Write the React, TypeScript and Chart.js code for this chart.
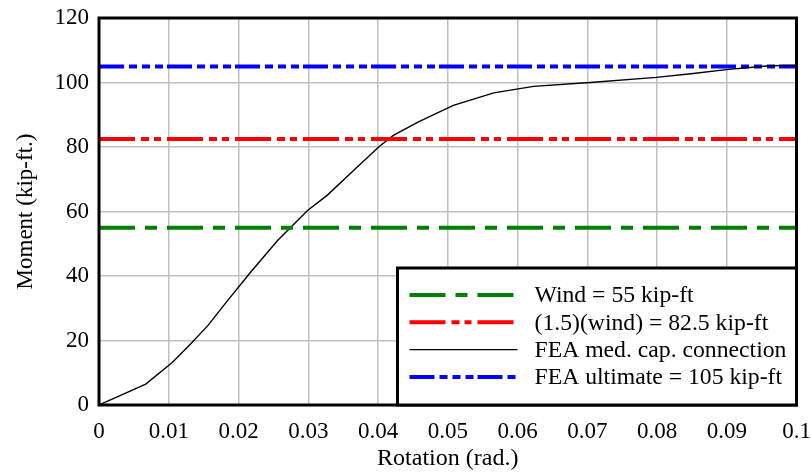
import React, { useEffect, useRef } from 'react';
import { Chart, registerables } from 'chart.js';

Chart.register(...registerables);

// ---- Data ----
const rotation = [0, 0.0067, 0.0105, 0.0132, 0.0156, 0.0184, 0.0217, 0.0256, 0.0299, 0.0327, 0.0368, 0.0401, 0.0422, 0.0458, 0.0508, 0.0566, 0.0623, 0.0704, 0.0799, 0.0852, 0.0899, 0.0961, 0.0998];
const moment = [0, 6.5, 13.2, 19.1, 24.6, 32.3, 41.1, 51, 60.3, 65, 73.3, 80, 83.6, 87.8, 92.9, 96.8, 98.8, 100, 101.6, 102.8, 104, 105.2, 105.3];

const xRange = [0, 0.1];
const windMoment = 55;
const factoredMoment = 82.5;
const ultimateMoment = 105;

const seriesLabels = ['Wind = 55 kip-ft', '(1.5)(wind) = 82.5 kip-ft', 'FEA med. cap. connection', 'FEA ultimate = 105 kip-ft'];
const xTickLabels = ['0', '0.01', '0.02', '0.03', '0.04', '0.05', '0.06', '0.07', '0.08', '0.09', '0.1'];
const yTickLabels = ['0', '20', '40', '60', '80', '100', '120'];

const FONT = "'Liberation Serif', 'Times New Roman', serif";

const framePlugin = {
  id: 'frame',
  afterDatasetsDraw(chart: any) {
    const { ctx, chartArea: a } = chart;
    ctx.save();
    ctx.strokeStyle = '#000';
    ctx.lineWidth = 3;
    ctx.strokeRect(a.left, a.top, a.right - a.left, a.bottom - a.top);
    ctx.restore();
  },
};

const legendPlugin = {
  id: 'boxLegend',
  afterDraw(chart: any) {
    const { ctx, chartArea: a } = chart;
    const w = 399;
    const h = 137;
    const left = a.right - w;
    const top = a.bottom - h;
    ctx.save();
    ctx.fillStyle = '#fff';
    ctx.fillRect(left, top, w, h);
    ctx.strokeStyle = '#000';
    ctx.lineWidth = 3;
    ctx.strokeRect(left, top, w, h);
    chart.data.datasets.forEach((ds: any, i: number) => {
      const y = top + 27 + i * 27.3;
      ctx.beginPath();
      ctx.strokeStyle = ds.borderColor;
      ctx.lineWidth = ds.borderWidth;
      ctx.setLineDash(ds.borderDash || []);
      ctx.moveTo(left + 12, y);
      ctx.lineTo(left + 120, y);
      ctx.stroke();
      ctx.setLineDash([]);
      ctx.fillStyle = '#000';
      ctx.font = `23.7px ${FONT}`;
      ctx.textBaseline = 'middle';
      ctx.textAlign = 'left';
      ctx.fillText(ds.label, left + 137, y + 1);
    });
    ctx.restore();
  },
};

export default function App() {
  const ref = useRef<HTMLCanvasElement | null>(null);
  useEffect(() => {
    document.body.style.margin = '0';
    const flat = (v: number) => xRange.map((x) => ({ x, y: v }));
    const chart = new Chart(ref.current as HTMLCanvasElement, {
      type: 'line',
      data: {
        datasets: [
          {
            label: seriesLabels[0],
            data: flat(windMoment),
            borderColor: '#008000',
            borderWidth: 4,
            borderDash: [36, 10, 12, 10],
            pointRadius: 0,
          },
          {
            label: seriesLabels[1],
            data: flat(factoredMoment),
            borderColor: '#ff0000',
            borderWidth: 4,
            borderDash: [36, 6, 8, 5, 7, 6],
            pointRadius: 0,
          },
          {
            label: seriesLabels[2],
            data: rotation.map((x, i) => ({ x, y: moment[i] })),
            borderColor: '#000000',
            borderWidth: 1.4,
            pointRadius: 0,
          },
          {
            label: seriesLabels[3],
            data: flat(ultimateMoment),
            borderColor: '#0000ff',
            borderWidth: 4,
            borderDash: [25, 5, 8, 5, 8, 5, 8, 4],
            pointRadius: 0,
          },
        ] as any,
      },
      options: {
        animation: false,
        responsive: false,
        devicePixelRatio: 1,
        layout: { padding: { top: 18, right: 14.5, left: 0, bottom: 0 } },
        plugins: { legend: { display: false }, tooltip: { enabled: false } },
        scales: {
          x: {
            type: 'linear',
            min: 0,
            max: 0.1,
            afterFit: (s: any) => { s.height = 68; s.paddingLeft = 0; s.paddingRight = 0; },
            ticks: {
              stepSize: 0.01,
              padding: 13,
              color: '#000',
              font: { family: FONT, size: 23 },
              callback: (_v: any, i: number) => xTickLabels[i],
              maxRotation: 0,
              autoSkip: false,
            },
            grid: { color: '#c0c0c0', lineWidth: 1.5, drawTicks: false },
            border: { display: false },
            title: {
              display: true,
              text: 'Rotation (rad.)',
              color: '#000',
              font: { family: FONT, size: 24 },
              padding: { top: 0, bottom: 0 },
            },
          },
          y: {
            type: 'linear',
            min: 0,
            max: 120,
            afterFit: (s: any) => { s.width = 99; s.paddingTop = 0; s.paddingBottom = 0; },
            ticks: {
              stepSize: 20,
              padding: 10,
              color: '#000',
              font: { family: FONT, size: 23 },
              callback: (_v: any, i: number) => yTickLabels[i],
            },
            grid: { color: '#c0c0c0', lineWidth: 1.5, drawTicks: false },
            border: { display: false },
            title: {
              display: true,
              text: 'Moment (kip-ft.)',
              color: '#000',
              font: { family: FONT, size: 23 },
              padding: { top: 12, bottom: 0 },
            },
          },
        },
      } as any,
      plugins: [framePlugin, legendPlugin],
    });
    return () => chart.destroy();
  }, []);
  return (
    <div style={{ position: 'absolute', left: 0, top: 0, width: 811, height: 473, background: '#fff' }}>
      <canvas ref={ref} width={811} height={473} />
    </div>
  );
}
